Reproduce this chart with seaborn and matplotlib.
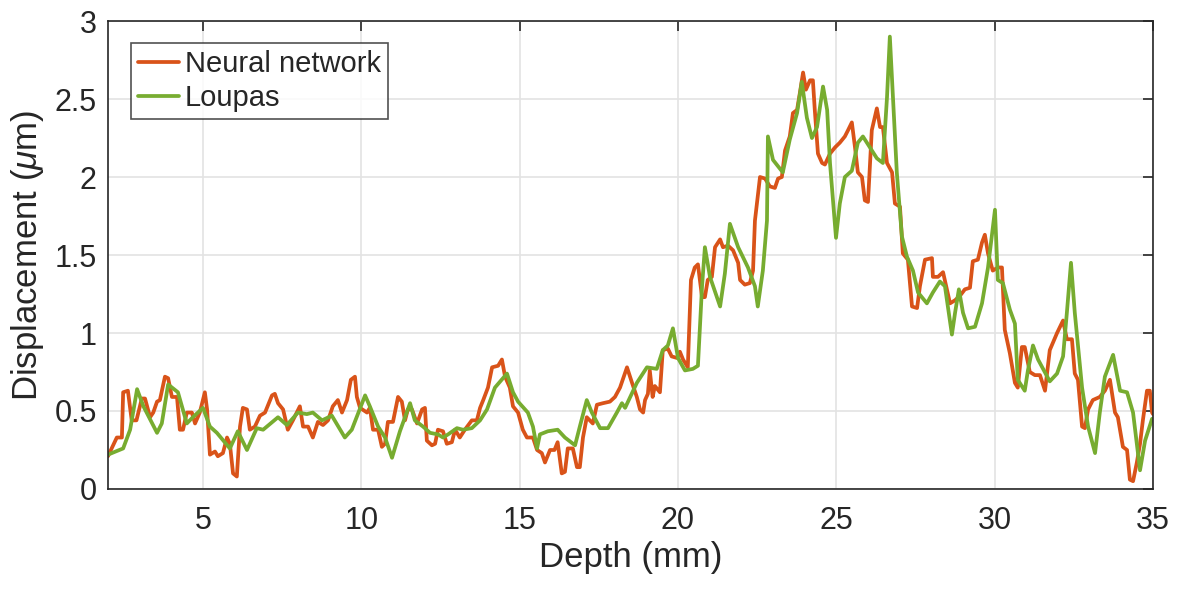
import numpy as np
import pandas as pd
import matplotlib
matplotlib.use('Agg')
import matplotlib.pyplot as plt
import seaborn as sns

# Neural network estimate
nn_depth = [2.0, 2.28, 2.44, 2.48, 2.63, 2.75, 2.9, 3.07, 3.17, 3.33, 3.43, 3.55, 3.64, 3.8, 3.9,
            4.02, 4.18, 4.27, 4.37, 4.49, 4.65, 4.75, 4.9, 5.06, 5.13, 5.22, 5.38, 5.47, 5.63, 5.76,
            5.85, 5.95, 6.07, 6.17, 6.26, 6.39, 6.48, 6.64, 6.8, 6.96, 7.02, 7.18, 7.27, 7.37, 7.53,
            7.68, 7.84, 8.06, 8.16, 8.32, 8.47, 8.63, 8.79, 8.95, 9.1, 9.26, 9.39, 9.55, 9.67, 9.8,
            9.86, 9.96, 10.18, 10.27, 10.37, 10.53, 10.65, 10.75, 10.84, 11.0, 11.16, 11.28, 11.38,
            11.47, 11.6, 11.76, 11.92, 12.01, 12.07, 12.23, 12.33, 12.42, 12.58, 12.7, 12.86, 12.96,
            13.11, 13.27, 13.49, 13.65, 13.75, 13.85, 14.0, 14.13, 14.32, 14.44, 14.54, 14.69, 14.79,
            14.95, 15.1, 15.23, 15.42, 15.55, 15.7, 15.8, 15.96, 16.1, 16.2, 16.33, 16.43, 16.52,
            16.68, 16.81, 16.9, 17.0, 17.12, 17.31, 17.44, 17.63, 17.85, 18.01, 18.17, 18.39, 18.55,
            18.7, 18.8, 18.9, 18.96, 19.05, 19.11, 19.2, 19.27, 19.43, 19.52, 19.68, 19.8, 19.97,
            20.06, 20.16, 20.31, 20.41, 20.53, 20.63, 20.76, 20.85, 20.94, 21.07, 21.17, 21.33,
            21.42, 21.58, 21.74, 21.9, 21.96, 22.11, 22.27, 22.37, 22.43, 22.59, 22.75, 22.9, 23.06,
            23.16, 23.28, 23.38, 23.53, 23.63, 23.76, 23.85, 23.95, 24.04, 24.17, 24.26, 24.32,
            24.42, 24.55, 24.64, 24.8, 24.96, 25.11, 25.27, 25.37, 25.49, 25.59, 25.68, 25.81, 25.9,
            26.0, 26.12, 26.28, 26.38, 26.47, 26.6, 26.76, 26.85, 27.01, 27.1, 27.26, 27.39, 27.55,
            27.64, 27.8, 28.02, 28.05, 28.21, 28.37, 28.59, 28.75, 28.91, 29.06, 29.22, 29.31, 29.47,
            29.6, 29.69, 29.79, 29.94, 30.1, 30.23, 30.32, 30.48, 30.64, 30.73, 30.86, 30.95, 31.11,
            31.27, 31.43, 31.59, 31.74, 31.97, 32.16, 32.28, 32.44, 32.53, 32.63, 32.76, 32.85, 32.95,
            33.1, 33.32, 33.48, 33.64, 33.8, 33.89, 34.05, 34.18, 34.27, 34.37, 34.49, 34.59, 34.68,
            34.81, 34.9, 34.97, 35.0]
nn_disp = [0.21, 0.33, 0.33, 0.62, 0.63, 0.44, 0.44, 0.58, 0.58, 0.46, 0.49, 0.56, 0.57, 0.72, 0.71,
           0.59, 0.59, 0.38, 0.38, 0.49, 0.49, 0.42, 0.49, 0.62, 0.51, 0.22, 0.24, 0.21, 0.23, 0.33,
           0.29, 0.10, 0.08, 0.40, 0.52, 0.51, 0.38, 0.40, 0.47, 0.49, 0.52, 0.60, 0.61, 0.55, 0.51,
           0.38, 0.44, 0.53, 0.40, 0.40, 0.33, 0.43, 0.41, 0.44, 0.53, 0.57, 0.49, 0.57, 0.70, 0.72,
           0.59, 0.52, 0.49, 0.52, 0.38, 0.38, 0.27, 0.29, 0.43, 0.43, 0.59, 0.56, 0.44,
           0.51, 0.51, 0.42, 0.51, 0.52, 0.31, 0.28, 0.29, 0.38, 0.37, 0.29, 0.30, 0.38,
           0.33, 0.38, 0.44, 0.44, 0.52, 0.57, 0.65, 0.78, 0.79, 0.83, 0.72, 0.65, 0.53,
           0.49, 0.38, 0.33, 0.33, 0.25, 0.23, 0.17, 0.25, 0.25, 0.30, 0.10, 0.11, 0.26,
           0.26, 0.14, 0.14, 0.33, 0.46, 0.42, 0.54, 0.55, 0.56, 0.59, 0.65, 0.78, 0.68,
           0.59, 0.51, 0.49, 0.57, 0.61, 0.76, 0.59, 0.66, 0.62, 0.89, 0.90, 0.85, 0.84,
           0.88, 0.83, 0.78, 1.34, 1.42, 1.44, 1.23, 1.23, 1.34, 1.36, 1.55, 1.60,
           1.55, 1.56, 1.53, 1.45, 1.34, 1.31, 1.32, 1.40, 1.72, 2.00, 1.99, 1.94, 1.93,
           1.99, 2.00, 2.17, 2.26, 2.41, 2.43, 2.54, 2.67, 2.56, 2.62, 2.62, 2.43,
           2.15, 2.09, 2.08, 2.15, 2.19, 2.22, 2.26, 2.30, 2.35, 2.19, 2.03, 2.00, 1.85,
           1.84, 2.30, 2.44, 2.32, 2.32, 2.09, 2.03, 1.83, 1.81, 1.51, 1.47, 1.17, 1.16,
           1.30, 1.47, 1.48, 1.36, 1.36, 1.39, 1.19, 1.21, 1.24, 1.28, 1.29, 1.46, 1.47,
           1.58, 1.63, 1.51, 1.40, 1.42, 1.42, 1.02, 0.87, 0.68, 0.65, 0.91, 0.91, 0.75,
           0.73, 0.73, 0.63, 0.89, 1.00, 1.08, 0.96, 0.96, 0.74, 0.70, 0.40, 0.39, 0.51,
           0.57, 0.59, 0.63, 0.70, 0.49, 0.46, 0.27, 0.25, 0.06, 0.05, 0.17, 0.29, 0.44,
           0.63, 0.63, 0.49, 0.48]

# Loupas estimate
lp_depth = [2.0, 2.48, 2.7, 2.92, 3.12, 3.55, 3.7, 3.9, 4.21, 4.49, 4.68, 5.0, 5.22, 5.44, 5.85,
            6.1, 6.39, 6.7, 6.9, 7.37, 7.65, 8.0, 8.28, 8.47, 8.76, 9.07, 9.48, 9.7, 10.12, 10.27,
            10.53, 10.75, 10.97, 11.22, 11.54, 11.69, 11.95, 12.17, 12.42, 12.58, 12.74, 13.02,
            13.21, 13.49, 13.75, 13.97, 14.22, 14.6, 14.79, 14.95, 15.26, 15.42, 15.55, 15.64,
            15.89, 16.2, 16.43, 16.75, 16.9, 17.12, 17.28, 17.54, 17.79, 18.07, 18.23, 18.33, 18.7,
            19.02, 19.33, 19.52, 19.68, 19.84, 20.0, 20.22, 20.47, 20.63, 20.76, 20.85, 21.01,
            21.33, 21.48, 21.64, 21.9, 22.21, 22.43, 22.52, 22.68, 22.81, 22.84, 23.0, 23.31, 23.53,
            23.76, 23.91, 24.07, 24.23, 24.39, 24.58, 24.71, 24.8, 24.99, 25.11, 25.27, 25.49,
            25.68, 25.84, 26.06, 26.28, 26.47, 26.6, 26.69, 26.79, 26.91, 27.07, 27.23, 27.42,
            27.58, 27.86, 28.05, 28.27, 28.43, 28.65, 28.75, 28.87, 29.0, 29.16, 29.38, 29.6, 29.79,
            30.01, 30.1, 30.26, 30.48, 30.64, 30.73, 30.95, 31.05, 31.21, 31.37, 31.74, 31.97,
            32.16, 32.28, 32.41, 32.53, 32.76, 32.95, 33.17, 33.32, 33.48, 33.74, 33.96, 34.18,
            34.37, 34.59, 34.75, 34.97]
lp_disp = [0.22, 0.26, 0.38, 0.64, 0.53, 0.36, 0.42, 0.67, 0.62, 0.42, 0.46, 0.52, 0.40, 0.36, 0.26,
           0.37, 0.25, 0.39, 0.38, 0.46, 0.41, 0.49, 0.48, 0.49, 0.44, 0.47, 0.33, 0.38, 0.60, 0.53,
           0.40, 0.33, 0.20, 0.37, 0.55, 0.44, 0.40, 0.36, 0.35, 0.33, 0.35, 0.39,
           0.38, 0.39, 0.44, 0.51, 0.65, 0.74, 0.62, 0.56, 0.49, 0.40, 0.26, 0.35,
           0.37, 0.38, 0.33, 0.28, 0.40, 0.57, 0.49, 0.39, 0.39, 0.49, 0.55, 0.52, 0.68,
           0.78, 0.77, 0.89, 0.92, 1.03, 0.84, 0.76, 0.77, 0.79, 1.30, 1.55, 1.36,
           1.17, 1.38, 1.70, 1.55, 1.42, 1.30, 1.17, 1.40, 1.72, 2.26, 2.11, 2.03, 2.24,
           2.41, 2.61, 2.38, 2.25, 2.32, 2.58, 2.43, 2.09, 1.61, 1.83, 2.00, 2.04,
           2.22, 2.26, 2.19, 2.12, 2.09, 2.51, 2.90, 2.51, 2.03, 1.62, 1.49, 1.40,
           1.26, 1.19, 1.26, 1.33, 1.30, 0.99, 1.13, 1.28, 1.13, 1.03, 1.04, 1.19, 1.42,
           1.79, 1.34, 1.32, 1.15, 1.06, 0.70, 0.63, 0.76, 0.92, 0.83, 0.69, 0.74,
           0.85, 1.13, 1.45, 1.13, 0.65, 0.40, 0.23, 0.49, 0.72, 0.86, 0.63, 0.62,
           0.49, 0.12, 0.31, 0.45]

x_ticks = [5, 10, 15, 20, 25, 30, 35]
y_ticks = [0, 0.5, 1, 1.5, 2, 2.5, 3]
y_tick_labels = ['0', '0.5', '1', '1.5', '2', '2.5', '3']

df = pd.concat([
    pd.DataFrame({'Depth': nn_depth, 'Displacement': nn_disp, 'Method': 'Neural network'}),
    pd.DataFrame({'Depth': lp_depth, 'Displacement': lp_disp, 'Method': 'Loupas'}),
], ignore_index=True)

sns.set_style('white')
plt.rcParams['font.family'] = ['Liberation Sans', 'DejaVu Sans']
plt.rcParams['mathtext.fontset'] = 'custom'
plt.rcParams['mathtext.it'] = 'Liberation Sans:italic'
plt.rcParams['mathtext.rm'] = 'Liberation Sans'

fig = plt.figure(figsize=(11.85, 5.89), dpi=100)
ax = fig.add_axes([0.0911, 0.1698, 0.8819, 0.7945])

sns.lineplot(data=df, x='Depth', y='Displacement', hue='Method', estimator=None, sort=False,
             palette={'Neural network': '#D95319', 'Loupas': '#77AC30'}, linewidth=2.7, ax=ax)

ax.set_xlim(2, 35)
ax.set_ylim(0, 3)
ax.set_xticks(x_ticks)
ax.set_yticks(y_ticks)
ax.set_yticklabels(y_tick_labels)
ax.grid(True, color='#e3e3e3', linewidth=1.2)
ax.set_axisbelow(True)
ax.tick_params(direction='in', length=7, width=1.2, colors='#262626', labelsize=22,
               top=True, right=True)
ax.tick_params(axis='x', pad=12)
ax.tick_params(axis='y', pad=8)
for s in ax.spines.values():
    s.set_color('#262626')
    s.set_linewidth(1.2)
ax.set_xlabel('Depth (mm)', fontsize=25, color='#262626', labelpad=4)
ax.set_ylabel(r'Displacement ($\mu$m)', fontsize=25, color='#262626', labelpad=6)

handles, labels = ax.get_legend_handles_labels()
leg = ax.legend(handles, labels, loc='upper left', bbox_to_anchor=(0.022, 0.953), fontsize=21,
                frameon=True, fancybox=False, edgecolor='#262626', handlelength=1.4,
                handletextpad=0.2, borderpad=0.25, labelspacing=0.2, borderaxespad=0)
leg.get_frame().set_linewidth(1.2)

fig.savefig('out.png', dpi=100)
